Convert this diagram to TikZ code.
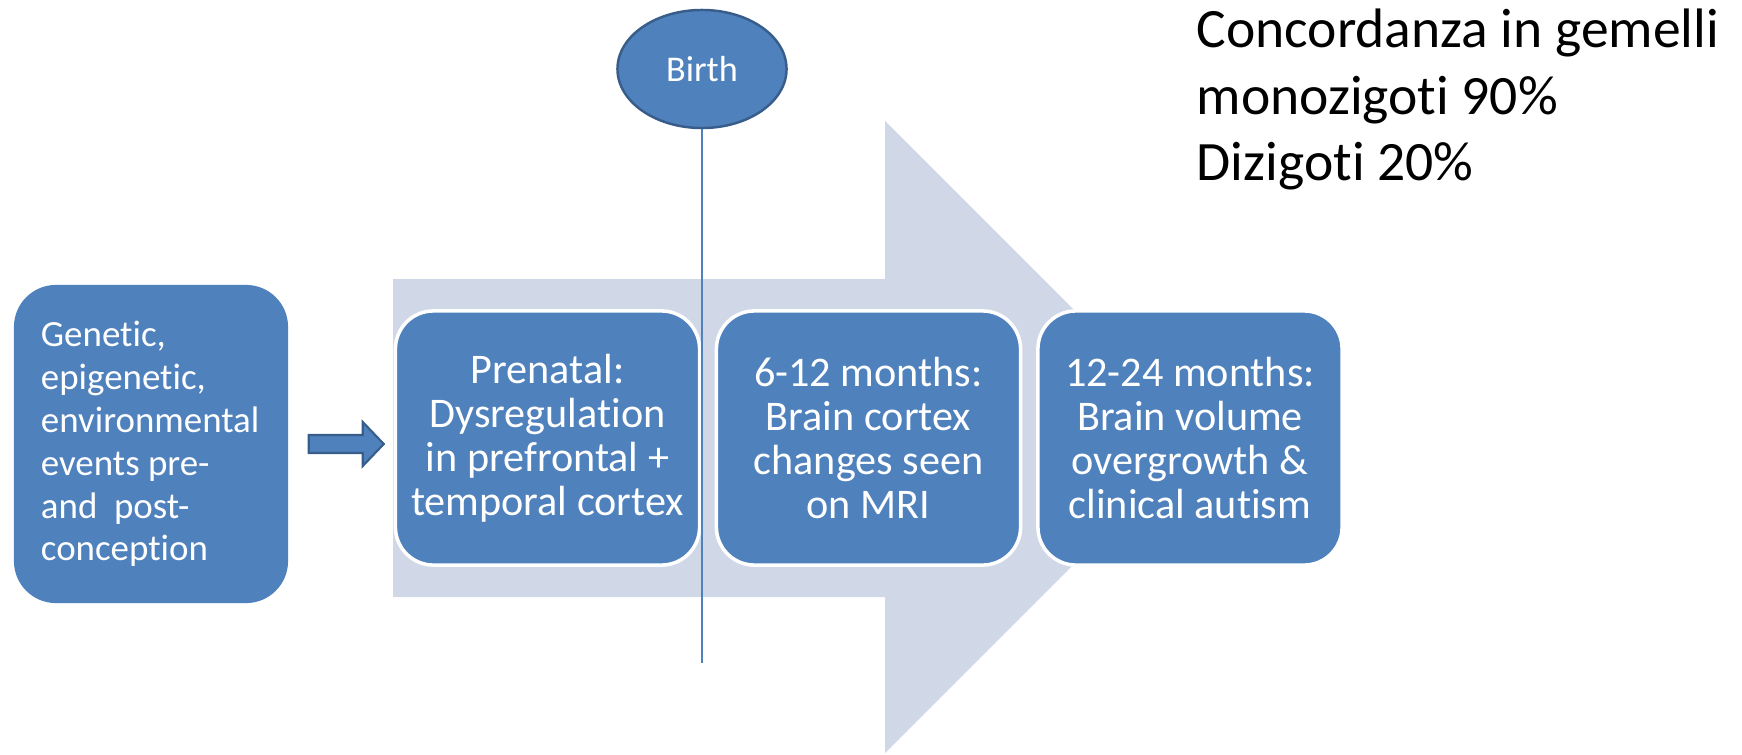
\documentclass[tikz,border=0pt]{standalone}
\usepackage{fontspec}
\setmainfont{Carlito}[Ligatures=NoCommon]
\usetikzlibrary{shapes.geometric,calc}
\definecolor{boxblue}{RGB}{79,129,189}
\definecolor{edgeblue}{RGB}{56,93,138}
\definecolor{bandgrey}{RGB}{208,216,232}

\begin{document}
\begin{tikzpicture}[x=0.01cm,y=-0.01cm,
  srcbox/.style={rectangle, rounded corners=0.42cm, fill=boxblue,
    minimum width=2.74cm, minimum height=3.18cm, text width=2.20cm,
    align=flush left, inner sep=0pt, text=white,
    font=\fontsize{10.5}{12.2}\selectfont},
  stagebox/.style={rectangle, rounded corners=0.38cm, fill=boxblue,
    draw=white, line width=1pt, minimum width=3.04cm, minimum height=2.54cm,
    align=center, inner sep=0pt, text=white,
    font=\fontsize{12}{12.5}\selectfont},
  eventnode/.style={ellipse, fill=boxblue, draw=edgeblue, line width=0.7pt,
    minimum width=1.69cm, minimum height=1.18cm, inner sep=0pt, text=white,
    font=\fontsize{10.3}{12}\selectfont},
  blockarrow/.style={fill=boxblue, draw=edgeblue, line width=0.6pt,
    line join=miter},
  timeline/.style={draw=boxblue, line width=0.45pt}
]
\useasboundingbox (0,0) rectangle (1742,754);

% broad background arrow
\fill[bandgrey] (393,279) -- (885,279) -- (885,121) -- (1201,437)
  -- (885,753) -- (885,597) -- (393,597) -- cycle;

% causes
\node[srcbox] (src) at (151,444)
  {Genetic,\\ epigenetic,\\ environmental\\ events pre-\\ and\ \ post-\\ conception};

% developmental stages
\node[stagebox] (prenatal) at (547.5,438)
  {Prenatal:\\ Dysregulation\\ in prefrontal +\\ temporal cortex};
\node[stagebox] (infant) at (868.5,438)
  {6-12 months:\\ Brain cortex\\ changes seen\\ on MRI};
\node[stagebox] (toddler) at (1190,438)
  {12-24 months:\\ Brain volume\\ overgrowth \&\\ clinical autism};

% block arrow from causes to the first stage
\draw[blockarrow] ($(src.east)+(20,-9)$) -- ($(src.east)+(74,-9)$)
  -- ($(src.east)+(74,-22)$) -- ($(src.east)+(95,0)$)
  -- ($(src.east)+(74,22)$) -- ($(src.east)+(74,9)$)
  -- ($(src.east)+(20,9)$) -- cycle;

% birth marker
\coordinate (birthend) at (702,663);
\node[eventnode] (birth) at (702,69) {Birth};
\draw[timeline] (birth.south) -- (birthend);

% twin concordance note
\node[anchor=north west, inner sep=0pt, align=left,
  font=\fontsize{15.8}{19}\selectfont] (twins) at (1196,8)
  {Concordanza in gemelli\\ monozigoti 90\%\\ Dizigoti 20\%};
\end{tikzpicture}
\end{document}
